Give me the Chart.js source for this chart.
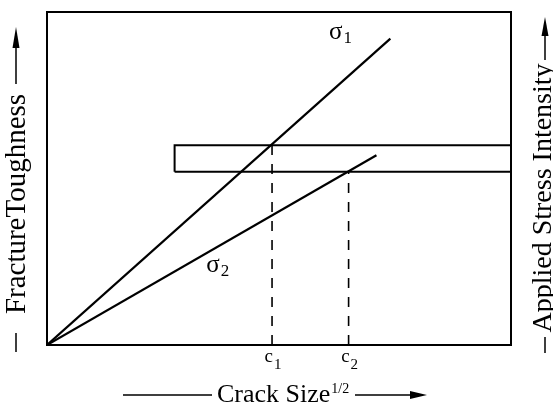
<!DOCTYPE html>
<html>
<head>
<meta charset="utf-8">
<script src="https://cdn.jsdelivr.net/npm/chart.js@4/dist/chart.umd.min.js"></script>
<style>
  html, body { margin: 0; padding: 0; background: #fff; }
  #wrap { width: 553px; height: 404px; }
</style>
</head>
<body>
<div id="wrap"><canvas id="myChart" width="553" height="404"></canvas></div>
<script>
// stress intensity lines, K = sigma * sqrt(c)  (arbitrary units)
const sigma1X = [0, 74]
const sigma1K = [0, 92]
const sigma2X = [0, 71]
const sigma2K = [0, 57]

// fracture toughness scatter band
const bandX = [27.5, 100]
const bandK = [52, 60]

// critical crack sizes where each line meets the band
const critC = [48.5, 65]
const critTop = [bandK[1], bandK[0]]
const critNames = ["1", "2"]

const FONT = "'Liberation Serif', 'Times New Roman', serif"

function pts(xs, ys) {
    return xs.map((v, i) => ({ x: v, y: ys[i] }))
}

const bandPts = [
    { x: bandX[0], y: bandK[0] },
    { x: bandX[0], y: bandK[1] },
    { x: bandX[1], y: bandK[1] },
    { x: bandX[1], y: bandK[0] },
    { x: bandX[0], y: bandK[0] },
]

// text with a subscript (or superscript when drop < 0)
function subText(ctx, main, sub, px, py, size, subSize, drop, align) {
    ctx.font = size + "px " + FONT
    const w = ctx.measureText(main).width
    let left = px
    if (align === "right") left = px - w
    ctx.textAlign = "left"
    ctx.textBaseline = "alphabetic"
    ctx.fillText(main, left, py)
    ctx.font = subSize + "px " + FONT
    ctx.fillText(sub, left + w + 1, py + drop)
}

function arrowHead(ctx, tipX, tipY, baseX, baseY, half) {
    const dx = tipX - baseX, dy = tipY - baseY
    const len = Math.hypot(dx, dy)
    const nx = -dy / len * half, ny = dx / len * half
    ctx.beginPath()
    ctx.moveTo(tipX, tipY)
    ctx.lineTo(baseX + nx, baseY + ny)
    ctx.lineTo(baseX - nx, baseY - ny)
    ctx.closePath()
    ctx.fill()
}

const labels = {
    id: "labels",
    afterDraw(chart) {
        const { ctx, scales: { x, y } } = chart
        ctx.save()
        ctx.fillStyle = "#000"
        ctx.strokeStyle = "#000"

        // line names
        subText(ctx, "σ", "1", x.getPixelForValue(60.8), y.getPixelForValue(91.9), 25, 17, 4)
        subText(ctx, "σ", "2", x.getPixelForValue(34.3), y.getPixelForValue(21.9), 25, 17, 4)

        // critical crack sizes under the axis
        const base = y.getPixelForValue(0)
        critC.forEach((c, i) => {
            subText(ctx, "c", critNames[i], x.getPixelForValue(c) + 1, base + 17, 19, 15, 7, "right")
        })

        // x title with arrow
        ctx.lineWidth = 1.5
        subText(ctx, "Crack Size", "1/2", 217, 402, 26, 14, -9)
        ctx.beginPath()
        ctx.moveTo(123, 395); ctx.lineTo(212, 395)
        ctx.moveTo(355, 395); ctx.lineTo(413, 395)
        ctx.stroke()
        arrowHead(ctx, 427, 395, 410, 395, 4)

        // left title
        ctx.save()
        ctx.translate(16, 0)
        ctx.rotate(-Math.PI / 2)
        ctx.font = "29px " + FONT
        ctx.textAlign = "center"
        ctx.textBaseline = "middle"
        ctx.fillText("FractureToughness", -204, 1)
        ctx.restore()
        ctx.beginPath()
        ctx.moveTo(16, 333); ctx.lineTo(16, 352)
        ctx.moveTo(16, 84); ctx.lineTo(16, 46)
        ctx.stroke()
        arrowHead(ctx, 16, 27, 16, 48, 3.5)

        // right title
        ctx.save()
        ctx.translate(543, 0)
        ctx.rotate(-Math.PI / 2)
        ctx.font = "28px " + FONT
        ctx.textAlign = "center"
        ctx.textBaseline = "middle"
        ctx.fillText("Applied Stress Intensity", -198, 1)
        ctx.restore()
        ctx.beginPath()
        ctx.moveTo(545, 337); ctx.lineTo(545, 353)
        ctx.moveTo(545, 60); ctx.lineTo(545, 34)
        ctx.stroke()
        arrowHead(ctx, 545, 17, 545, 36, 3.5)

        ctx.restore()
    }
}

function frameAxis(position) {
    return {
        type: "linear",
        position: position,
        min: 0,
        max: 100,
        grid: { display: false, drawTicks: false },
        ticks: { display: false },
        border: { display: true, color: "#000", width: 2 },
    }
}

function createChart() {
    const chartEl = document.getElementById("myChart")

    const line = { showLine: true, pointRadius: 0, borderColor: "#000", fill: false }

    new Chart(chartEl, {
        type: "scatter",
        data: {
            datasets: [
                { ...line, label: "sigma1", data: pts(sigma1X, sigma1K), borderWidth: 2.2 },
                { ...line, label: "sigma2", data: pts(sigma2X, sigma2K), borderWidth: 2.2 },
                { ...line, label: "K_Ic", data: bandPts, borderWidth: 2 },
                { ...line, label: "c1", data: pts([critC[0], critC[0]], [0, critTop[0]]), borderWidth: 1.6, borderDash: [10, 9] },
                { ...line, label: "c2", data: pts([critC[1], critC[1]], [0, critTop[1]]), borderWidth: 1.6, borderDash: [10, 9] },
            ]
        },
        options: {
            responsive: false,
            animation: false,
            layout: { padding: { left: 47, top: 12, right: 42, bottom: 59 } },
            scales: {
                x: frameAxis("bottom"),
                xTop: frameAxis("top"),
                y: frameAxis("left"),
                yRight: frameAxis("right"),
            },
            plugins: {
                legend: { display: false },
                tooltip: { enabled: false },
            }
        },
        plugins: [labels]
    })
}

createChart()
</script>
</body>
</html>
